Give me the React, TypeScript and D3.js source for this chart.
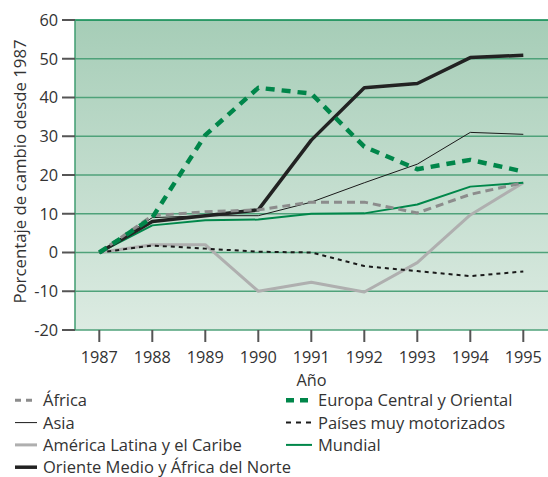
import React from "react";
import * as d3 from "d3";

const years = [1987, 1988, 1989, 1990, 1991, 1992, 1993, 1994, 1995];
const yTicks = [-20, -10, 0, 10, 20, 30, 40, 50, 60];

const africa = [0, 9.5, 10.5, 11, 13, 13, 10.2, 15, 18];
const asia = [0, 9, 9.5, 9.5, 13, 18, 22.8, 31, 30.5];
const latam = [0, 2, 2, -10, -7.7, -10.2, -2.6, 9.7, 18];
const mideast = [0, 8, 9.5, 11, 29, 42.5, 43.6, 50.3, 50.9];
const europe = [0, 9, 30.3, 42.5, 41, 27.3, 21.5, 23.9, 20.9];
const motorized = [0, 1.8, 1, 0.2, 0, -3.5, -4.8, -6.1, -4.9];
const world = [0, 7, 8.3, 8.5, 10, 10.1, 12.4, 17, 18];

type Style = { color: string; width: number; dash?: string };
const styles: Record<string, Style> = {
  "África": { color: "#8c8c8c", width: 3, dash: "8,5" },
  "Asia": { color: "#1a1a1a", width: 1 },
  "América Latina y el Caribe": { color: "#afafaf", width: 3 },
  "Oriente Medio y África del Norte": { color: "#222222", width: 3.5 },
  "Europa Central y Oriental": { color: "#00864a", width: 4.5, dash: "9,7" },
  "Países muy motorizados": { color: "#1a1a1a", width: 2, dash: "4,4" },
  "Mundial": { color: "#00874a", width: 2 },
};
const dataByName: Record<string, number[]> = {
  "África": africa,
  "Asia": asia,
  "América Latina y el Caribe": latam,
  "Oriente Medio y África del Norte": mideast,
  "Europa Central y Oriental": europe,
  "Países muy motorizados": motorized,
  "Mundial": world,
};
const drawOrder = [
  "América Latina y el Caribe",
  "Países muy motorizados",
  "Asia",
  "Mundial",
  "Oriente Medio y África del Norte",
  "África",
  "Europa Central y Oriental",
];
const legendLeft = [
  "África",
  "Asia",
  "América Latina y el Caribe",
  "Oriente Medio y África del Norte",
];
const legendRight = [
  "Europa Central y Oriental",
  "Países muy motorizados",
  "Mundial",
];

const W = 548, H = 477;
const left = 75, right = 548, top = 20, bottom = 330;
const font = "'Open Sans', sans-serif";
const textColor = "#333333";
const fs = 16.3;
const lfs = 16.5;

export default function App() {
  const x = d3.scalePoint<number>().domain(years).range([99.3, 523.3]);
  const y = d3.scaleLinear().domain([-20, 60]).range([bottom, top]);
  const line = d3
    .line<number>()
    .x((_, i) => x(years[i]) as number)
    .y((d) => y(d));

  const legendY = (i: number) => 400.3 + i * 22.3;

  return (
    <svg
      width={W}
      height={H}
      style={{ position: "absolute", left: 0, top: 0, background: "#fff" }}
      fontFamily={font}
    >
      <defs>
        <linearGradient id="bg" x1="0" y1="0" x2="0" y2="1">
          <stop offset="0" stopColor="#a6cdb7" />
          <stop offset="1" stopColor="#dcebe2" />
        </linearGradient>
      </defs>
      <rect x={left} y={top} width={right - left} height={bottom - top} fill="url(#bg)" />
      {yTicks.map((t) => (
        <line
          key={"g" + t}
          x1={left}
          x2={right}
          y1={y(t)}
          y2={y(t)}
          stroke={t === 60 ? "#00864a" : "#4fa27a"}
          strokeWidth={1.5}
        />
      ))}
      <line x1={left} x2={left} y1={top} y2={bottom} stroke="#3f9d70" strokeWidth={1.5} />
      {yTicks.map((t) => (
        <g key={"yt" + t}>
          <line x1={62} x2={left} y1={y(t)} y2={y(t)} stroke="#555" strokeWidth={2} />
          <text
            x={58}
            y={y(t)}
            dy="0.36em"
            textAnchor="end"
            fontSize={fs}
            fill={textColor}
          >
            {t}
          </text>
        </g>
      ))}
      {years.map((yr) => (
        <g key={"xt" + yr}>
          <line
            x1={x(yr)}
            x2={x(yr)}
            y1={bottom}
            y2={342}
            stroke="#555"
            strokeWidth={2}
          />
          <text x={x(yr)} y={363} textAnchor="middle" fontSize={fs} fill={textColor}>
            {yr}
          </text>
        </g>
      ))}
      <text x={311.5} y={386} textAnchor="middle" fontSize={fs} fill={textColor}>
        Año
      </text>
      <text
        transform={`translate(26,171.5) rotate(-90)`}
        textAnchor="middle"
        fontSize={16.8}
        fill={textColor}
      >
        Porcentaje de cambio desde 1987
      </text>
      {drawOrder.map((name) => {
        const s = styles[name];
        return (
          <path
            key={name}
            d={line(dataByName[name]) || ""}
            fill="none"
            stroke={s.color}
            strokeWidth={s.width}
            strokeDasharray={s.dash}
            strokeLinejoin="round"
          />
        );
      })}
      {legendLeft.map((name, i) => {
        const s = styles[name];
        const ly = legendY(i);
        return (
          <g key={"ll" + name}>
            <line
              x1={15}
              x2={37}
              y1={ly}
              y2={ly}
              stroke={s.color}
              strokeWidth={s.width}
              strokeDasharray={s.dash ? "6,5" : undefined}
            />
            <text x={43} y={ly} dy="0.36em" fontSize={lfs} fill={textColor}>
              {name}
            </text>
          </g>
        );
      })}
      {legendRight.map((name, i) => {
        const s = styles[name];
        const ly = legendY(i);
        return (
          <g key={"lr" + name}>
            <line
              x1={286}
              x2={312}
              y1={ly}
              y2={ly}
              stroke={s.color}
              strokeWidth={s.width}
              strokeDasharray={
                name === "Europa Central y Oriental"
                  ? "8,6"
                  : name === "Países muy motorizados"
                  ? "5,5"
                  : undefined
              }
            />
            <text x={318} y={ly} dy="0.36em" fontSize={lfs} fill={textColor}>
              {name}
            </text>
          </g>
        );
      })}
    </svg>
  );
}
